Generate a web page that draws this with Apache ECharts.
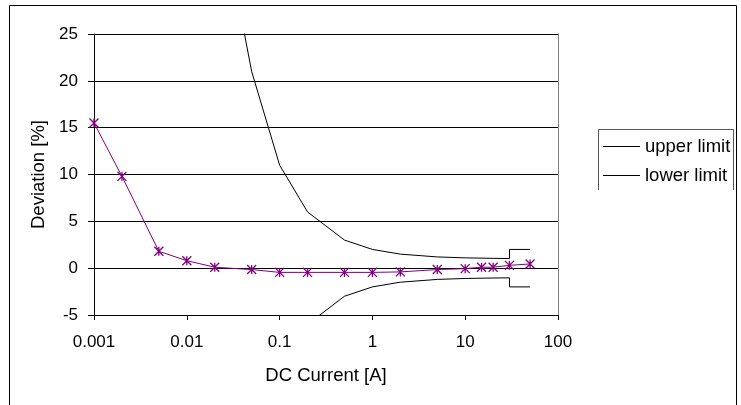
<!DOCTYPE html>
<html>
<head>
<meta charset="utf-8">
<script src="https://cdn.jsdelivr.net/npm/echarts@6/dist/echarts.min.js"></script>
<style>
html,body{margin:0;padding:0;background:#fff;}
#chart{width:741px;height:405px;}
</style>
</head>
<body>
<div id="chart"></div>
<script>
// Measured deviation
const currentA = [0.001, 0.002, 0.005, 0.01, 0.02, 0.05, 0.1, 0.2, 0.5, 1, 2, 5, 10, 15, 20, 30, 50];
const deviation = [15.5, 9.8, 1.8, 0.8, 0.1, -0.15, -0.45, -0.45, -0.45, -0.45, -0.4, -0.15, -0.05, 0.1, 0.1, 0.3, 0.45];
// Limits
const limitCurrent = [0.04, 0.05, 0.1, 0.2, 0.5, 1, 2, 5, 10, 20, 30, 30, 50];
const upperLimit = [26, 21, 11, 6, 3, 2, 1.5, 1.2, 1.1, 1.05, 1.03, 2, 2];
const lowerLimit = [-26, -21, -11, -6, -3, -2, -1.5, -1.2, -1.1, -1.05, -1.03, -2, -2];
// Tick labels
const xTickLabels = ['0.001', '0.01', '0.1', '1', '10', '100'];
const yTickLabels = ['-5', '0', '5', '10', '15', '20', '25'];

const FONT = "'Liberation Sans', Arial, sans-serif";
const pairs = (xs, ys) => xs.map((x, i) => [x, ys[i]]);

const chart = echarts.init(document.getElementById('chart'), null, {renderer: 'canvas'});
chart.setOption({
  animation: false,
  backgroundColor: '#fff',
  textStyle: {fontFamily: FONT, color: '#000'},
  grid: {left: 94, right: 183, top: 34, bottom: 90},
  legend: {
    orient: 'vertical',
    left: 603, top: 137,
    padding: 0,
    data: ['upper limit', 'lower limit'],
    icon: 'rect',
    itemWidth: 37, itemHeight: 1,
    itemGap: 10,
    textStyle: {fontFamily: FONT, fontSize: 18.5, color: '#000'},
    itemStyle: {color: '#000'}
  },
  xAxis: {
    type: 'log', logBase: 10, min: 0.001, max: 100,
    name: 'DC Current [A]', nameLocation: 'middle', nameGap: 51,
    nameTextStyle: {fontFamily: FONT, fontSize: 18.5, color: '#000'},
    axisLine: {onZero: false, lineStyle: {color: '#000', width: 1}},
    axisTick: {show: true, length: 5, lineStyle: {color: '#000'}},
    minorTick: {show: false},
    splitLine: {show: false},
    axisLabel: {
      fontFamily: FONT, fontSize: 17, color: '#000', margin: 19,
      formatter: (v, i) => xTickLabels[i] !== undefined ? xTickLabels[i] : ''
    }
  },
  yAxis: [{
    type: 'value', min: -5, max: 25, interval: 5,
    name: 'Deviation [%]', nameLocation: 'middle', nameGap: 46,
    nameTextStyle: {fontFamily: FONT, fontSize: 18.5, color: '#000'},
    axisLine: {show: true, lineStyle: {color: '#000', width: 1}},
    axisTick: {show: true, length: 6, lineStyle: {color: '#000'}},
    splitLine: {show: true, lineStyle: {color: '#000', width: 1}},
    axisLabel: {
      fontFamily: FONT, fontSize: 17, color: '#000', margin: 16,
      formatter: (v, i) => yTickLabels[i] !== undefined ? yTickLabels[i] : ''
    }
  }, {
    type: 'value', min: -5, max: 25, interval: 5, position: 'right',
    axisLine: {show: true, lineStyle: {color: '#808080', width: 1}},
    axisTick: {show: false}, axisLabel: {show: false}, splitLine: {show: false}
  }],
  series: [
    {
      name: 'deviation', type: 'line', data: pairs(currentA, deviation),
      lineStyle: {color: '#800080', width: 1},
      symbol: 'path://M0,0L10,10M10,0L0,10M5,0L5,10',
      symbolSize: [9, 9],
      itemStyle: {color: 'rgba(0,0,0,0)', borderColor: '#800080', borderWidth: 1.3},
      z: 3
    },
    {
      name: 'upper limit', type: 'line', data: pairs(limitCurrent, upperLimit),
      symbol: 'none', lineStyle: {color: '#000', width: 1}, itemStyle: {color: '#000'}
    },
    {
      name: 'lower limit', type: 'line', data: pairs(limitCurrent, lowerLimit),
      symbol: 'none', lineStyle: {color: '#000', width: 1}, itemStyle: {color: '#000'}
    }
  ],
  graphic: [
    {type: 'rect', shape: {x: 9.5, y: 5.5, width: 727, height: 430},
     style: {fill: 'none', stroke: '#000', lineWidth: 1}, silent: true},
    {type: 'polyline', shape: {points: [[598.5, 190], [598.5, 129.5], [733.5, 129.5], [733.5, 190]]},
     style: {fill: 'none', stroke: '#555', lineWidth: 1}, silent: true}
  ]
});
</script>
</body>
</html>
